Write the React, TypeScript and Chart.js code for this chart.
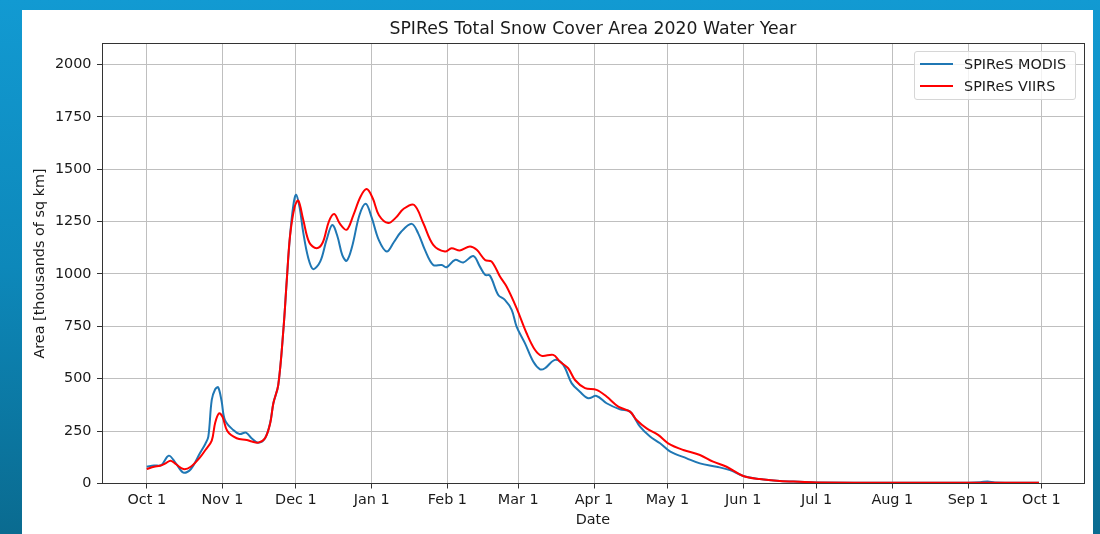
import React, { useEffect, useRef } from "react";
import { Chart, registerables } from "chart.js";

Chart.register(...registerables);

// Day offsets from Oct 1 2019 (water year 2020) and area in thousands of sq km
const modisDays = [0, 3, 6, 9, 12, 15, 18, 21.8, 24, 25.2, 26.6, 28, 29.2, 30.6, 32, 35.4, 38, 40.6, 43, 45.6, 48.4, 50.5, 51.8, 53.8, 55.9, 57.3, 58.6, 60, 61.1, 62.5, 64, 66, 68.1, 71, 73.5, 75.9, 78, 80, 81.8, 84, 87, 89.6, 92, 95, 98.2, 101, 104, 108.4, 111, 113.8, 117.2, 120.7, 122.7, 126.1, 129.5, 133.6, 136.3, 138.4, 140.4, 143.8, 146.5, 149.3, 151.3, 154.7, 158.1, 160.9, 162.9, 167, 170.4, 173.8, 177.2, 180.6, 184, 188.1, 193.6, 197.7, 201.8, 205.9, 210, 214.2, 220.9, 226.3, 233.1, 238.6, 244, 250.8, 259, 267, 274, 305, 336, 341, 344, 347, 365];
const modisArea = [80, 86, 88, 133, 95, 52, 68, 145, 190, 224, 399, 450, 459, 395, 303, 255, 236, 243, 215, 195, 216, 290, 383, 470, 733, 972, 1180, 1330, 1378, 1320, 1200, 1080, 1023, 1060, 1160, 1234, 1180, 1090, 1063, 1130, 1280, 1335, 1270, 1160, 1107, 1150, 1200, 1239, 1195, 1115, 1043, 1043, 1032, 1067, 1055, 1086, 1035, 996, 992, 900, 876, 829, 749, 670, 582, 545, 550, 590, 566, 479, 438, 407, 418, 383, 354, 343, 271, 224, 192, 152, 120, 96, 80, 64, 36, 21, 12, 8, 5, 4, 4, 6, 10, 5, 4];

const viirsDays = [0, 3, 5.4, 7.5, 9.8, 12, 15, 18, 21.8, 24, 26.6, 28, 29.6, 31, 33, 36.8, 40.9, 43, 45.6, 48.4, 50.5, 51.8, 53.8, 55.9, 57.3, 58.6, 60.5, 62, 64, 66.5, 69.5, 72, 74.5, 76.7, 79, 81.8, 84.5, 87.5, 90, 92.5, 95, 98.8, 102, 105, 109.3, 113.1, 117.2, 122, 124.7, 128.1, 132.2, 135, 138.4, 141.1, 144.5, 147.2, 151.3, 155.4, 158.8, 161.6, 166.3, 169, 172.4, 175.2, 179.3, 184, 188.1, 192.9, 197.7, 200.4, 204.5, 209.2, 213.3, 219.5, 226.3, 231.7, 237.2, 244, 250.8, 259, 267, 274, 305, 336, 365];
const viirsArea = [69, 80, 85, 95, 109, 92, 69, 80, 125, 160, 205, 290, 335, 318, 250, 216, 208, 200, 195, 216, 287, 383, 470, 733, 972, 1179, 1320, 1350, 1260, 1150, 1123, 1150, 1250, 1286, 1240, 1211, 1280, 1370, 1405, 1360, 1280, 1243, 1270, 1310, 1330, 1243, 1139, 1107, 1123, 1112, 1131, 1115, 1067, 1059, 988, 940, 837, 717, 638, 609, 614, 582, 550, 494, 455, 447, 415, 367, 343, 303, 263, 232, 192, 160, 136, 104, 80, 36, 21, 12, 8, 5, 4, 4, 4];

const monthTickDays = [0, 31, 61, 92, 123, 152, 183, 213, 244, 274, 305, 336, 366];
const monthTickLabels = ["Oct 1", "Nov 1", "Dec 1", "Jan 1", "Feb 1", "Mar 1", "Apr 1", "May 1", "Jun 1", "Jul 1", "Aug 1", "Sep 1", "Oct 1"];
const areaTicks = [0, 250, 500, 750, 1000, 1250, 1500, 1750, 2000];

const seriesNames = ["SPIReS MODIS", "SPIReS VIIRS"];
const seriesColors = ["#1f77b4", "#ff0000"];

const FONT = "'DejaVu Sans', 'Liberation Sans', sans-serif";
const TEXT = "#1a1a1a";

const framePlugin = {
  id: "frame",
  afterDatasetsDraw(chart: any) {
    const { ctx, chartArea } = chart;
    ctx.save();
    ctx.strokeStyle = "#333333";
    ctx.lineWidth = 1;
    ctx.strokeRect(
      Math.round(chartArea.left) + 0.5,
      Math.round(chartArea.top) + 0.5,
      Math.round(chartArea.right - chartArea.left),
      Math.round(chartArea.bottom - chartArea.top)
    );
    ctx.restore();
  },
};

export default function App() {
  const canvasRef = useRef<HTMLCanvasElement>(null);

  useEffect(() => {
    if (!canvasRef.current) return;
    const chart = new Chart(canvasRef.current, {
      type: "line",
      data: {
        datasets: [
          {
            label: seriesNames[0],
            data: modisDays.map((d, i) => ({ x: d, y: modisArea[i] })),
            borderColor: seriesColors[0],
            backgroundColor: seriesColors[0],
            borderWidth: 2,
            pointRadius: 0,
            tension: 0.35,
            order: 1,
          },
          {
            label: seriesNames[1],
            data: viirsDays.map((d, i) => ({ x: d, y: viirsArea[i] })),
            borderColor: seriesColors[1],
            backgroundColor: seriesColors[1],
            borderWidth: 2,
            pointRadius: 0,
            tension: 0.35,
            order: 0,
          },
        ],
      },
      options: {
        animation: false,
        responsive: false,
        maintainAspectRatio: false,
        layout: { padding: { left: 0, right: 9.3, top: 0, bottom: 0 } },
        plugins: {
          legend: { display: false },
          tooltip: { enabled: false },
          title: {
            display: true,
            text: "SPIReS Total Snow Cover Area 2020 Water Year",
            color: TEXT,
            font: { family: FONT, size: 17.3, weight: "normal" },
            padding: { top: 9.4, bottom: 3.3 },
            fullSize: false,
          },
        },
        scales: {
          x: {
            type: "linear",
            min: -18.3,
            max: 383.3,
            afterBuildTicks: (scale: any) => {
              scale.ticks = monthTickDays.map((v) => ({ value: v }));
            },
            afterFit: (scale: any) => {
              scale.height = 50.5;
            },
            ticks: {
              autoSkip: false,
              maxRotation: 0,
              color: TEXT,
              padding: 3,
              font: { family: FONT, size: 14.4 },
              callback: (_v: any, i: number) => monthTickLabels[i],
            },
            grid: {
              color: "#bfbfbf",
              lineWidth: 1,
              tickColor: "#333333",
              tickLength: 5,
            },
            border: { color: "#333333", width: 1 },
            title: {
              display: true,
              text: "Date",
              color: TEXT,
              font: { family: FONT, size: 14.4 },
              padding: { top: 0, bottom: 5.2 },
            },
          },
          y: {
            type: "linear",
            min: 0,
            max: 2100,
            afterBuildTicks: (scale: any) => {
              scale.ticks = areaTicks.map((v) => ({ value: v }));
            },
            afterFit: (scale: any) => {
              scale.width = 80;
            },
            ticks: {
              color: TEXT,
              padding: 5.5,
              font: { family: FONT, size: 14.4 },
              callback: (v: any) => String(v),
            },
            grid: {
              color: "#bfbfbf",
              lineWidth: 1,
              tickColor: "#333333",
              tickLength: 5,
            },
            border: { color: "#333333", width: 1 },
            title: {
              display: true,
              text: "Area [thousands of sq km]",
              color: TEXT,
              font: { family: FONT, size: 14.4 },
              padding: { top: 10, bottom: 0 },
            },
          },
        },
      },
      plugins: [framePlugin],
    } as any);
    return () => chart.destroy();
  }, []);

  return (
    <div
      style={{
        position: "absolute",
        left: 0,
        top: 0,
        width: 1100,
        height: 534,
        overflow: "hidden",
        background: "linear-gradient(180deg, #129ad2 0%, #0d88ba 50%, #0a6b90 100%)",
      }}
    >
      <div
        style={{
          position: "absolute",
          left: 22,
          top: 10,
          width: 1071,
          height: 524,
          background: "#ffffff",
        }}
      >
        <canvas
          ref={canvasRef}
          width={1071}
          height={524}
          style={{ width: 1071, height: 524, display: "block" }}
        />
        <div
          style={{
            position: "absolute",
            left: 892,
            top: 41,
            width: 160,
            height: 47,
            border: "1px solid #d6d6d6",
            borderRadius: 3,
            background: "rgba(255,255,255,0.8)",
            fontFamily: FONT,
            fontSize: 14.4,
            color: TEXT,
          }}
        >
          {seriesNames.map((name, i) => (
            <div
              key={name}
              style={{
                position: "absolute",
                left: 0,
                top: 3 + i * 22,
                height: 18,
                display: "flex",
                alignItems: "center",
                whiteSpace: "nowrap",
              }}
            >
              <span
                style={{
                  display: "inline-block",
                  marginLeft: 5,
                  width: 33,
                  height: 2,
                  background: seriesColors[i],
                }}
              />
              <span style={{ marginLeft: 11, lineHeight: "18px" }}>{name}</span>
            </div>
          ))}
        </div>
      </div>
    </div>
  );
}
